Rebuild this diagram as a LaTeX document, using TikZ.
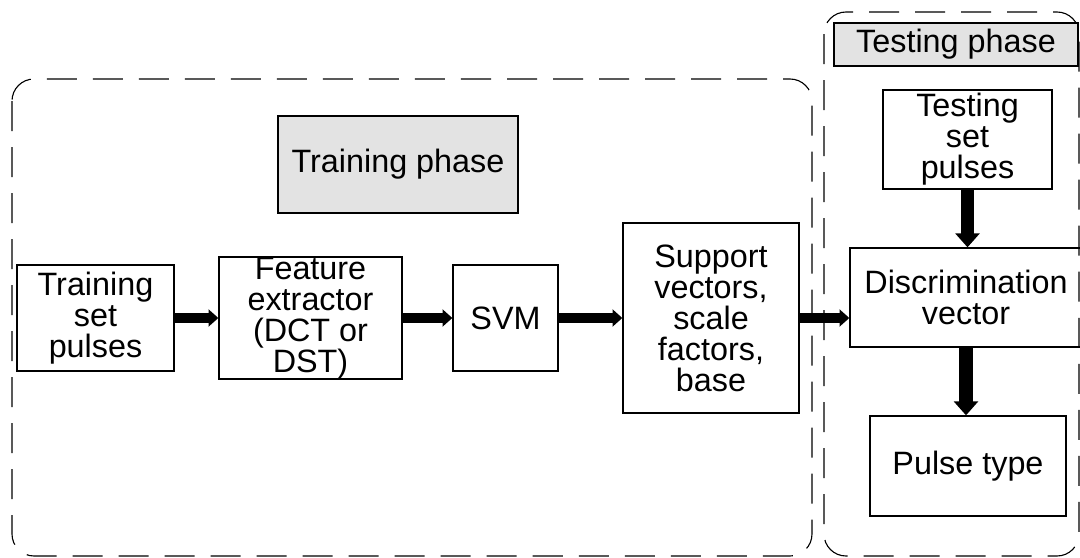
\documentclass[tikz,border=0pt]{standalone}
\usepackage{fontspec}
\setmainfont{Liberation Sans}
\usepackage{tikz}
\usetikzlibrary{arrows.meta}

\tikzset{
  caixa/.style={draw, line width=0.9pt, align=center, inner sep=0pt, font=\fontsize{23}{22}\selectfont},
  rotulo/.style={caixa, fill=black!11},
  fase/.style={draw, line width=0.8pt, dash pattern=on 0.75cm off 0.4cm, rounded corners=0.55cm},
  seta/.style={line width=7pt, -{Triangle[length=7pt,width=12pt]}},
  setav/.style={line width=9.5pt, -{Triangle[length=10pt,width=17pt]}}
}

\begin{document}
\begin{tikzpicture}[x=0.025cm, y=-0.025cm]
        \useasboundingbox (0,0) rectangle (1080,558);

        % Fases
        \draw[fase] (12,79) rectangle (812,556);
        \draw[fase] (824,12) rectangle (1079,556);

        % Treinamento
        \node[rotulo, minimum width=6cm, minimum height=2.425cm] (trainlabel) at (398,164.5) {Training phase};
        \node[caixa, minimum width=3.925cm, minimum height=2.65cm] (trainset) at (95.5,318) {Training\\set\\pulses};
        \node[caixa, minimum width=4.575cm, minimum height=3.05cm] (feature) at (310.5,318) {Feature\\extractor\\(DCT or\\DST)};
        \node[caixa, minimum width=2.625cm, minimum height=2.65cm] (svm) at (505.5,318) {SVM};
        \node[caixa, minimum width=4.4cm, minimum height=4.75cm] (support) at (711,318) {Support\\vectors,\\scale\\factors,\\base};

        % Teste
        \node[rotulo, minimum width=6.1cm, minimum height=1.075cm] (testlabel) at (956,44.5) {Testing phase};
        \node[caixa, minimum width=4.225cm, minimum height=2.475cm] (testset) at (967.5,139.5) {Testing\\set\\pulses};
        \node[caixa, minimum width=5.8cm, minimum height=2.475cm] (discrim) at (966,297.5) {Discrimination\\vector};
        \node[caixa, minimum width=4.9cm, minimum height=2.5cm] (pulsetype) at (968,466) {Pulse type};

        % Setas
        \draw[seta] (trainset.east) -- (feature.west);
        \draw[seta] (feature.east) -- (svm.west);
        \draw[seta] (svm.east) -- (support.west);
        \draw[seta] (support.east) -- (support.east -| discrim.west);
        \draw[setav] (testset.south) -- (testset.south |- discrim.north);
        \draw[setav] (discrim.south) -- (discrim.south |- pulsetype.north);
\end{tikzpicture}
\end{document}
